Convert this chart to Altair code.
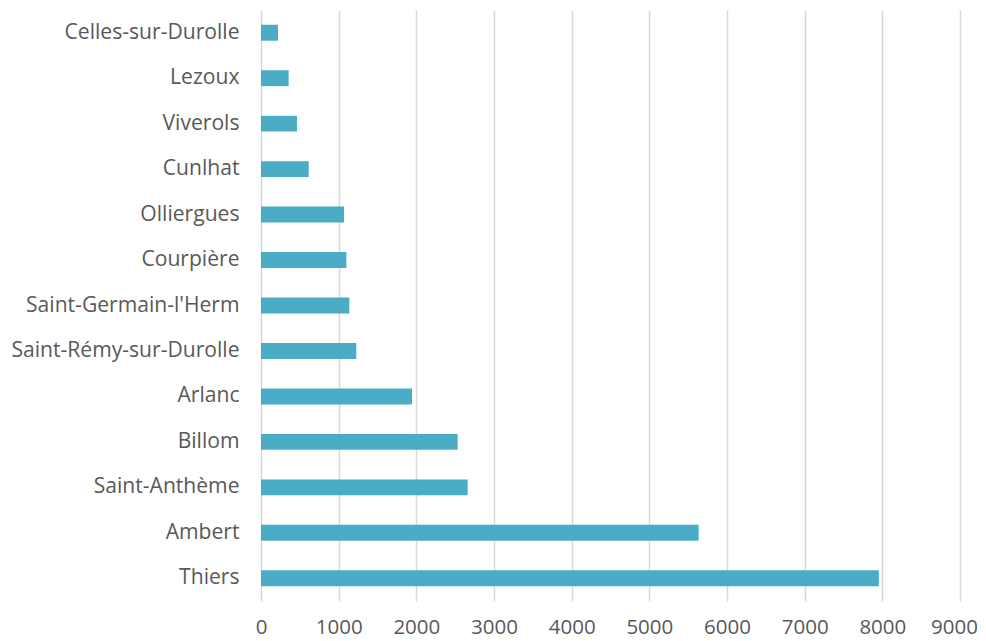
import altair as alt
import pandas as pd

communes = ["Celles-sur-Durolle", "Lezoux", "Viverols", "Cunlhat", "Olliergues",
            "Courpière", "Saint-Germain-l'Herm", "Saint-Rémy-sur-Durolle", "Arlanc",
            "Billom", "Saint-Anthème", "Ambert", "Thiers"]
valeurs = [219, 356, 463, 614, 1069, 1099, 1137, 1227, 1944, 2532, 2661, 5635, 7955]
x_ticks = [0, 1000, 2000, 3000, 4000, 5000, 6000, 7000, 8000, 9000]

df = pd.DataFrame({"commune": communes, "valeur": valeurs})

FONT = "Open Sans"
GREY = "#595959"

chart = alt.Chart(df).mark_bar(color="#4BACC6").encode(
    y=alt.Y("commune:N", sort=communes, title=None,
            scale=alt.Scale(paddingInner=0.65, paddingOuter=0.325),
            axis=alt.Axis(domain=False, ticks=False, labelFont=FONT, labelFontSize=21.1,
                          labelColor=GREY, labelPadding=22, grid=False, labelLimit=300)),
    x=alt.X("valeur:Q", title=None,
            scale=alt.Scale(domain=[0, 9000], nice=False),
            axis=alt.Axis(values=x_ticks, format="d", domain=False, ticks=False,
                          labelFont=FONT, labelFontSize=20.5, labelColor=GREY,
                          labelPadding=16, grid=True, gridColor="#D9D9D9", gridWidth=1.5,
                          labelFlush=False,
                          labelOffset=alt.expr("datum.value == 9000 ? -6 : 0"))),
).properties(
    width=699, height=591,
    autosize=alt.AutoSizeParams(type="none"),
    padding={"left": 253, "top": 2, "right": 17, "bottom": 38},
).configure_view(stroke=None)

chart.save("out.html", embed_options={"renderer": "svg", "actions": False})
